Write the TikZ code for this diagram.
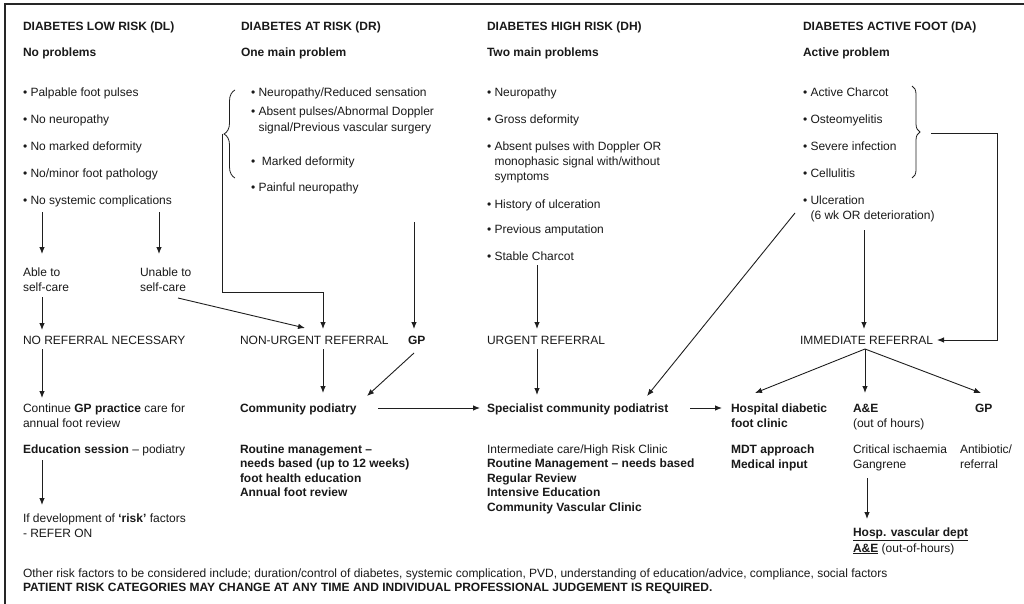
\documentclass[tikz,border=0pt]{standalone}
\usepackage{fontspec}
\setmainfont{Liberation Sans}
\usetikzlibrary{arrows.meta,decorations.pathreplacing}
\newcommand{\mlines}[1]{\begin{tabular}[t]{@{}l@{}}#1\end{tabular}}
\begin{document}
\begin{tikzpicture}[x=1pt,y=-1pt,
  txt/.style={anchor=base west,inner sep=0pt,outer sep=0pt,font=\fontsize{12}{15}\selectfont,text=black!90},
  bold/.style={txt,font=\fontsize{12}{15}\selectfont\bfseries},
  tighttxt/.style={txt,font=\fontsize{12}{14.5}\selectfont},
  tightbold/.style={txt,font=\fontsize{12}{14.5}\selectfont\bfseries},
  ln/.style={draw=black!88,line width=0.9pt},
  arr/.style={ln,-{Latex[length=7pt,width=5.5pt]}},
  brc/.style={draw=black!88,line width=0.8pt,decorate,decoration={brace,amplitude=#1}}]
\useasboundingbox (0,0) rectangle (1024,604);
\draw[line width=1.3pt,black!85] (5,604) -- (5,4) -- (1024,4);

% ---------- DL column
\node[bold] (dlh) at (23,31) {DIABETES LOW RISK (DL)};
\node[bold] (dlp) at (23,57) {No problems};
\node[txt] (dl1) at (23,97) {• Palpable foot pulses};
\node[txt] (dl2) at (23,124) {• No neuropathy};
\node[txt] (dl3) at (23,151) {• No marked deformity};
\node[txt] (dl4) at (23,178) {• No/minor foot pathology};
\node[txt] (dl5) at (23,204) {• No systemic complications};
\node[txt] (able) at (23,276) {\mlines{Able to\\self-care}};
\node[txt] (unable) at (140,276) {\mlines{Unable to\\self-care}};
\node[txt] (nrn) at (23,344) {NO REFERRAL NECESSARY};
\node[txt] (cont) at (23,412) {\mlines{Continue \textbf{GP practice} care for\\annual foot review}};
\node[txt] (edu) at (23,453) {\textbf{Education session} – podiatry};
\node[txt] (ifdev) at (23,522) {\mlines{If development of \textbf{‘risk’} factors\\- REFER ON}};

% ---------- DR column
\node[bold] (drh) at (241,31) {DIABETES AT RISK (DR)};
\node[bold] (drp) at (241,57) {One main problem};
\node[txt] (dr1) at (251,97) {• Neuropathy/Reduced sensation};
\node[txt] (dr2) at (251,116) {\mlines{• Absent pulses/Abnormal Doppler\\[1pt]\phantom{• }signal/Previous vascular surgery}};
\node[txt] (dr3) at (251,165) {•\ \ Marked deformity};
\node[txt] (dr4) at (251,191) {• Painful neuropathy};
\node[txt] (nur) at (240,344) {NON-URGENT REFERRAL};
\node[bold] (gp1) at (408,344) {GP};
\node[bold] (comm) at (240,412) {Community podiatry};
\node[tightbold] (rout) at (240,453) {\mlines{Routine management –\\needs based (up to 12 weeks)\\foot health education\\Annual foot review}};

% ---------- DH column
\node[bold] (dhh) at (487,31) {DIABETES HIGH RISK (DH)};
\node[bold] (dhp) at (487,57) {Two main problems};
\node[txt] (dh1) at (487,97) {• Neuropathy};
\node[txt] (dh2) at (487,124) {• Gross deformity};
\node[txt] (dh3) at (487,151) {\mlines{• Absent pulses with Doppler OR\\\phantom{• }monophasic signal with/without\\\phantom{• }symptoms}};
\node[txt] (dh4) at (487,208) {• History of ulceration};
\node[txt] (dh5) at (487,233) {• Previous amputation};
\node[txt] (dh6) at (487,260) {• Stable Charcot};
\node[txt] (ur) at (487,344) {URGENT REFERRAL};
\node[bold] (spec) at (487,412) {Specialist community podiatrist};
\node[tighttxt] (inter) at (487,453) {\mlines{Intermediate care/High Risk Clinic\\\textbf{Routine Management – needs based}\\\textbf{Regular Review}\\\textbf{Intensive Education}\\\textbf{Community Vascular Clinic}}};

% ---------- DA column
\node[bold] (dah) at (803,31) {DIABETES ACTIVE FOOT (DA)};
\node[bold] (dap) at (803,57) {Active problem};
\node[txt] (da1) at (803,97) {• Active Charcot};
\node[txt] (da2) at (803,124) {• Osteomyelitis};
\node[txt] (da3) at (803,151) {• Severe infection};
\node[txt] (da4) at (803,178) {• Cellulitis};
\node[txt] (da5) at (803,204) {\mlines{• Ulceration\\\phantom{• }(6 wk OR deterioration)}};
\node[txt] (ir) at (800,344) {IMMEDIATE REFERRAL};
\node[bold] (hosp) at (731,412) {\mlines{Hospital diabetic\\foot clinic}};
\node[bold] (mdt) at (731,453) {\mlines{MDT approach\\Medical input}};
\node[txt] (ae) at (853,412) {\mlines{\textbf{A\&E}\\(out of hours)}};
\node[bold] (gp2) at (975,412) {GP};
\node[txt] (crit) at (853,453) {\mlines{Critical ischaemia\\Gangrene}};
\node[txt] (anti) at (960,453) {\mlines{Antibiotic/\\referral}};
\node[txt] (hvd) at (853,536) {\mlines{\textbf{\underline{Hosp. vascular dept}}\\[1pt]\textbf{\underline{A\&E}} (out-of-hours)}};

% ---------- footer
\node[txt] (f1) at (23,577) {Other risk factors to be considered include; duration/control of diabetes, systemic complication, PVD, understanding of education/advice, compliance, social factors};
\node[bold] (f2) at (23,591) {PATIENT RISK CATEGORIES MAY CHANGE AT ANY TIME AND INDIVIDUAL PROFESSIONAL JUDGEMENT IS REQUIRED.};

% ---------- braces
\draw[brc=11pt] (235,178) -- (235,90);
\coordinate (drtip) at (222,134);
\draw[brc=8pt] (912,86) -- (912,178);
\coordinate (datip) at (931,133);

% ---------- connectors DL
\draw[arr] ([shift={(19,8)}]dl5.base west) -- ([shift={(19,-22)}]able.base west);
\draw[arr] ([shift={(136,8)}]dl5.base west) -- ([shift={(19,-22)}]unable.base west);
\draw[arr] ([shift={(19,21)}]able.base west) -- ([shift={(19,-14)}]nrn.base west);
\draw[arr] ([shift={(19,5)}]nrn.base west) -- ([shift={(19,-14)}]cont.base west);
\draw[arr] ([shift={(19,7)}]edu.base west) -- ([shift={(19,-17)}]ifdev.base west);

% ---------- connectors DR
\draw[arr] (drtip) |- ([shift={(83,-52)}]nur.base west) -- ([shift={(83,-15)}]nur.base west);
\draw[arr] ([shift={(38,22)}]unable.base west) -- ([shift={(65,-16)}]nur.base west);
\draw[arr] ([shift={(163,31)}]dr4.base west) -- ([shift={(6,-15)}]gp1.base west);
\draw[arr] ([shift={(83,5)}]nur.base west) -- ([shift={(83,-19)}]comm.base west);
\draw[arr] ([shift={(6,9)}]gp1.base west) -- ([shift={(127,-16)}]comm.base west);
\draw[arr] ([shift={(138,-4)}]comm.base west) -- ([shift={(-7,-4)}]spec.base west);

% ---------- connectors DH
\draw[arr] ([shift={(50,5)}]dh6.base west) -- ([shift={(50,-15)}]ur.base west);
\draw[arr] ([shift={(50,5)}]ur.base west) -- ([shift={(50,-17)}]spec.base west);
\draw[arr] ([shift={(-8,9)}]da5.base west) -- ([shift={(160,-16)}]spec.base west);
\draw[arr] ([shift={(203,-4)}]spec.base west) -- ([shift={(-9,-4)}]hosp.base west);

% ---------- connectors DA
\draw[arr] (datip) -- ++(66,0) |- ([shift={(137,-4)}]ir.base west);
\draw[arr] ([shift={(61,26)}]da5.base west) -- ([shift={(64,-15)}]ir.base west);
\draw[arr] ([shift={(65,5)}]ir.base west) -- ([shift={(24,-19)}]hosp.base west);
\draw[arr] ([shift={(65,5)}]ir.base west) -- ([shift={(12,-19)}]ae.base west);
\draw[arr] ([shift={(65,5)}]ir.base west) -- ([shift={(6,-19)}]gp2.base west);
\draw[arr] ([shift={(14,25)}]crit.base west) -- ([shift={(14,-17)}]hvd.base west);
\end{tikzpicture}
\end{document}
